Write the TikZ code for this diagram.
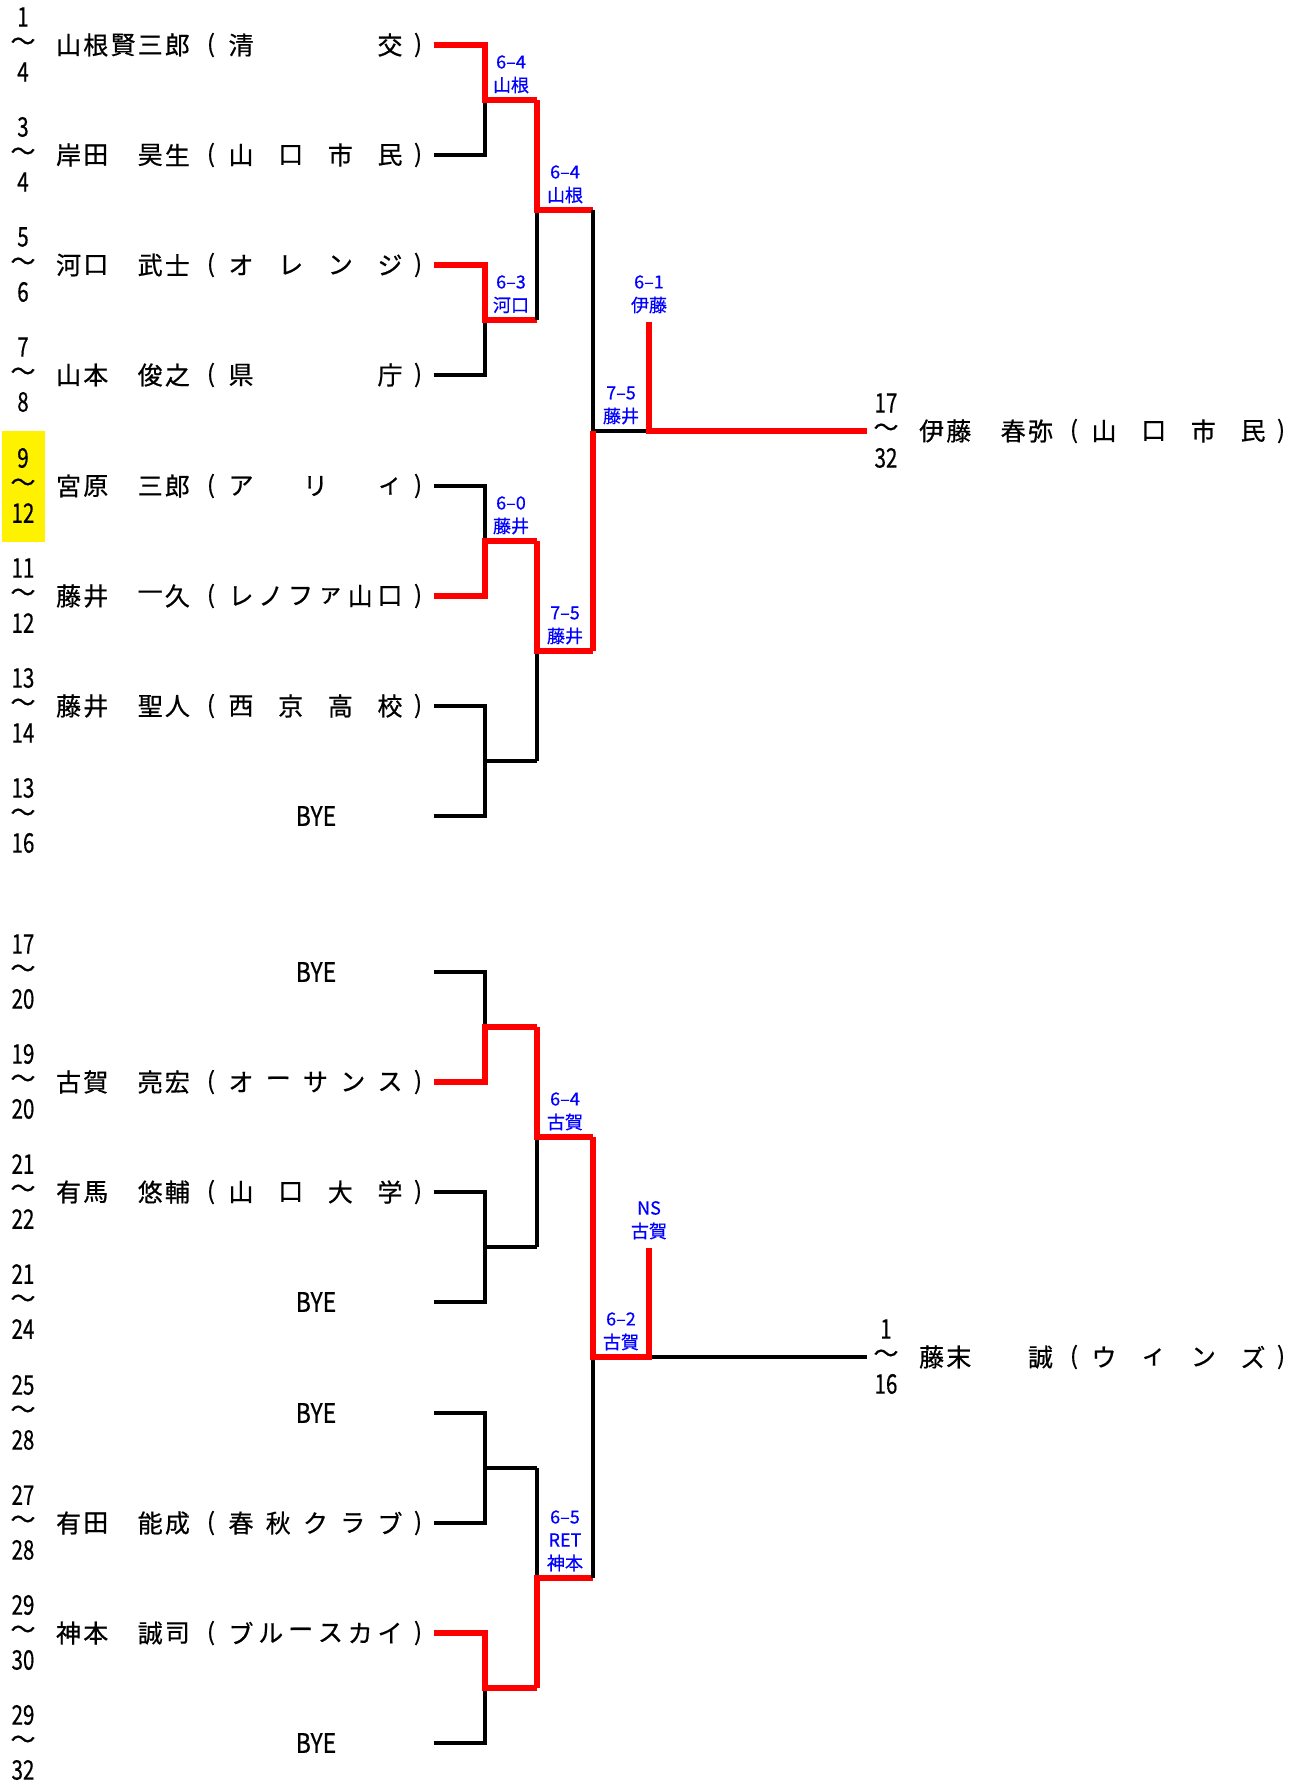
\documentclass[tikz,border=0pt]{standalone}
\usepackage{fontspec}
\setmainfont{Noto Sans CJK JP}[FakeBold=0.6]
\newcommand\nsq[1]{\scalebox{0.76}[1]{#1}}
\newcommand\prow[8]{%
  \node[numtxt] (ta#1) at (23+#3,#2-28) {\nsq{#4}};
  \node[cjk] (tw#1) at (23+#3,#2-1) {～};
  \node[numtxt] (tb#1) at (23+#3,#2+27) {\nsq{#5}};
  \foreach \k/\c in {#6} {\node[cjk] (nm#1-\k) at ({68.6+27.2*(\k-1)+#3},#2) {\c};}
  \node[paren] (pl#1) at (211+#3,#2) {(};
  \node[paren] (pr#1) at (418+#3,#2) {)};
  \foreach \c [count=\j] in {#8} {\node[cjk] (or#1-\j) at ({241+149*(\j-1)/(#7-1)+#3},#2) {\c};}
}
\newcommand\brow[4]{%
  \node[numtxt] (ta#1) at (23,#2-28) {\nsq{#3}};
  \node[cjk] (tw#1) at (23,#2-1) {～};
  \node[numtxt] (tb#1) at (23,#2+27) {\nsq{#4}};
  \node[numtxt] (by#1) at (316,#2) {\scalebox{0.85}[1]{BYE}};
}
\newcommand\score[5]{%
  \node[sc] (#1a) at (#2,#3-38) {#4};
  \node[sc] (#1b) at (#2,#3-15) {#5};
}
\begin{document}
\begin{tikzpicture}[x=1pt,y=-1pt,
  win/.style={draw=red,line width=5.5pt,line join=miter},
  lose/.style={draw=black,line width=3.3pt,line join=miter},
  cjk/.style={inner sep=0pt,font=\fontsize{25}{30}\selectfont},
  paren/.style={inner sep=0pt,font=\fontsize{24}{30}\selectfont},
  numtxt/.style={inner sep=0pt,font=\fontsize{27}{30}\selectfont},
  sc/.style={inner sep=0pt,text=blue,font=\fontsize{18}{20}\selectfont}]
\useasboundingbox (0,0) rectangle (1302,1784);
\fill[white] (0,0) rectangle (1302,1784);
\fill[yellow] (2,431) rectangle (45,542);

% coordinates
\foreach \i/\y in {1/45,2/155,3/265,4/375,5/486,6/596,7/706,8/816,9/972,10/1082,11/1192,12/1302,13/1413,14/1523,15/1633,16/1743}{
  \coordinate (s\i) at (434,\y);
  \coordinate (v\i) at (485,\y);
}
\foreach \k/\y in {1/100,2/320,3/541,4/761,5/1027,6/1247,7/1468,8/1688}{
  \coordinate (m\k) at (537,\y);
}
\foreach \k/\y in {1/210,2/651,3/1137,4/1578}{
  \coordinate (n\k) at (593,\y);
}
\coordinate (q1) at (649,431);
\coordinate (q2) at (649,1357);
\coordinate (f1) at (649,322);
\coordinate (f2) at (649,1248);
\coordinate (e1) at (867,431);
\coordinate (e2) at (867,1357);

% ---- top half
\draw[lose] (s2) -- (v2) -- (v2 |- m1);
\draw[win] (s1) -- (v1) |- (m1);
\draw[lose] (s4) -- (v4) -- (v4 |- m2);
\draw[win] (s3) -- (v3) |- (m2);
\draw[lose] (s5) -- (v5) -- (v5 |- m3);
\draw[win] (s6) -- (v6) |- (m3);
\draw[lose] (s7) -- (v7) -- (v8) -- (s8);
\draw[lose] (v7 |- m4) -- (m4);
\draw[lose] (m2) -- (m2 |- n1);
\draw[win] (m1) |- (n1);
\draw[lose] (m4) -- (m4 |- n2);
\draw[win] (m3) |- (n2);
\draw[lose] (n1) -- (n1 |- q1) -- (q1);
\draw[win] (n2) -- (n2 |- q1);
\draw[win] (f1) -- (q1) -- (e1);

% ---- bottom half
\draw[lose] (s9) -- (v9) -- (v9 |- m5);
\draw[win] (s10) -- (v10) |- (m5);
\draw[lose] (s11) -- (v11) -- (v12) -- (s12);
\draw[lose] (v11 |- m6) -- (m6);
\draw[lose] (s13) -- (v13) -- (v14) -- (s14);
\draw[lose] (v13 |- m7) -- (m7);
\draw[lose] (s16) -- (v16) -- (v16 |- m8);
\draw[win] (s15) -- (v15) |- (m8);
\draw[lose] (m6) -- (m6 |- n3);
\draw[win] (m5) |- (n3);
\draw[lose] (m7) -- (m7 |- n4);
\draw[win] (m8) |- (n4);
\draw[lose] (n4) -- (n4 |- q2);
\draw[lose] (q2) -- (e2);
\draw[win] (n3) |- (q2) -- (f2);

% ---- scores
\score{sA}{511}{100}{6--4}{山根}
\score{sB}{511}{320}{6--3}{河口}
\score{sC}{511}{541}{6--0}{藤井}
\score{sE}{565}{210}{6--4}{山根}
\score{sF}{565}{651}{7--5}{藤井}
\score{sG}{621}{431}{7--5}{藤井}
\score{sH}{649}{320}{6--1}{伊藤}
\score{sI}{565}{1137}{6--4}{古賀}
\node[sc] (sJa) at (565,1578-61) {6--5};
\score{sJ}{565}{1578}{RET}{神本}
\score{sK}{621}{1357}{6--2}{古賀}
\score{sL}{649}{1246}{NS}{古賀}

% ---- players
\prow{1}{45}{0}{1}{4}{1/山,2/根,3/賢,4/三,5/郎}{2}{清,交}
\prow{2}{155}{0}{3}{4}{1/岸,2/田,4/昊,5/生}{4}{山,口,市,民}
\prow{3}{265}{0}{5}{6}{1/河,2/口,4/武,5/士}{4}{オ,レ,ン,ジ}
\prow{4}{375}{0}{7}{8}{1/山,2/本,4/俊,5/之}{2}{県,庁}
\prow{5}{486}{0}{9}{12}{1/宮,2/原,4/三,5/郎}{3}{ア,リ,ィ}
\prow{6}{596}{0}{11}{12}{1/藤,2/井,4/一,5/久}{6}{レ,ノ,フ,ァ,山,口}
\prow{7}{706}{0}{13}{14}{1/藤,2/井,4/聖,5/人}{4}{西,京,高,校}
\brow{8}{816}{13}{16}
\brow{9}{972}{17}{20}
\prow{10}{1082}{0}{19}{20}{1/古,2/賀,4/亮,5/宏}{5}{オ,ー,サ,ン,ス}
\prow{11}{1192}{0}{21}{22}{1/有,2/馬,4/悠,5/輔}{4}{山,口,大,学}
\brow{12}{1302}{21}{24}
\brow{13}{1413}{25}{28}
\prow{14}{1523}{0}{27}{28}{1/有,2/田,4/能,5/成}{5}{春,秋,ク,ラ,ブ}
\prow{15}{1633}{0}{29}{30}{1/神,2/本,4/誠,5/司}{6}{ブ,ル,ー,ス,カ,イ}
\brow{16}{1743}{29}{32}
\prow{R1}{431}{863}{17}{32}{1/伊,2/藤,4/春,5/弥}{4}{山,口,市,民}
\prow{R2}{1357}{863}{1}{16}{1/藤,2/末,5/誠}{4}{ウ,ィ,ン,ズ}
\end{tikzpicture}
\end{document}
